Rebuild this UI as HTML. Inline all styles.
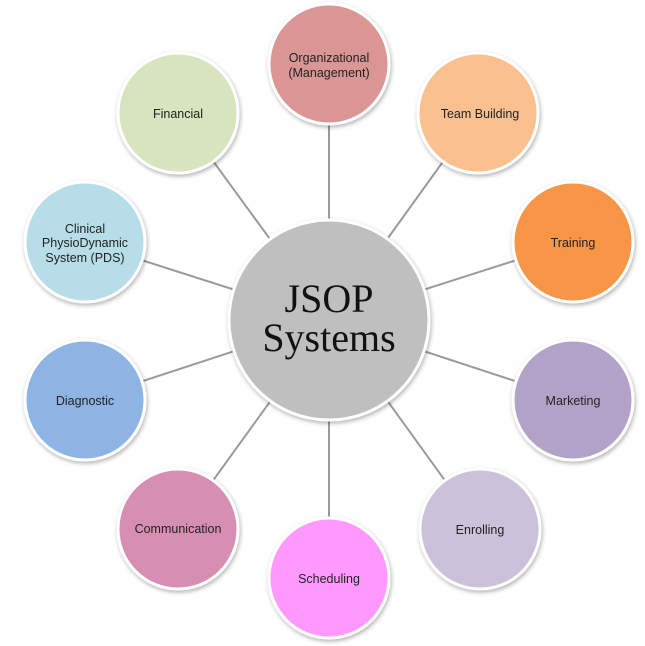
<!DOCTYPE html>
<html><head><meta charset="utf-8"><style>
html,body{margin:0;padding:0;background:#fff;width:645px;height:646px;overflow:hidden}
svg{display:block}
.l{font-family:"Liberation Sans",sans-serif;font-size:12.5px;fill:#222;text-anchor:middle}
</style></head><body>
<svg width="645" height="646" viewBox="0 0 645 646" xmlns="http://www.w3.org/2000/svg">
<defs><filter id="s" x="-20%" y="-20%" width="140%" height="140%"><feDropShadow dx="1" dy="2" stdDeviation="2" flood-color="#000" flood-opacity="0.3"/></filter></defs>
<g stroke="#9a9a9a" stroke-width="2">
<line x1="329" y1="320" x2="329" y2="64"/>
<line x1="329" y1="320" x2="478" y2="113"/>
<line x1="329" y1="320" x2="573" y2="242"/>
<line x1="329" y1="320" x2="573" y2="400"/>
<line x1="329" y1="320" x2="480" y2="529"/>
<line x1="329" y1="320" x2="329" y2="578"/>
<line x1="329" y1="320" x2="178" y2="529"/>
<line x1="329" y1="320" x2="85" y2="400"/>
<line x1="329" y1="320" x2="85" y2="242"/>
<line x1="329" y1="320" x2="178" y2="113"/>
</g>
<g stroke="#fff" stroke-width="3" filter="url(#s)">
<circle cx="329" cy="320" r="100" fill="#bfbfbf"/>
<circle cx="329" cy="64" r="60" fill="#d99694"/>
<circle cx="478" cy="113" r="60" fill="#fac090"/>
<circle cx="573" cy="242" r="60" fill="#f79646"/>
<circle cx="573" cy="400" r="60" fill="#b3a2c7"/>
<circle cx="480" cy="529" r="60" fill="#ccc1da"/>
<circle cx="329" cy="578" r="60" fill="#ff99ff"/>
<circle cx="178" cy="529" r="60" fill="#d78eb3"/>
<circle cx="85" cy="400" r="60" fill="#8eb4e3"/>
<circle cx="85" cy="242" r="60" fill="#b7dee8"/>
<circle cx="178" cy="113" r="60" fill="#d7e4bd"/>
</g>
<text x="329" y="312" font-family="'Liberation Serif',serif" font-size="40" text-anchor="middle" fill="#111">JSOP</text>
<text x="329" y="351" font-family="'Liberation Serif',serif" font-size="40" text-anchor="middle" fill="#111">Systems</text>
<text class="l" x="329" y="62">Organizational</text>
<text class="l" x="329" y="77">(Management)</text>
<text class="l" x="480" y="118">Team Building</text>
<text class="l" x="573" y="247">Training</text>
<text class="l" x="573" y="405">Marketing</text>
<text class="l" x="480" y="534">Enrolling</text>
<text class="l" x="329" y="583">Scheduling</text>
<text class="l" x="178" y="533">Communication</text>
<text class="l" x="85" y="405">Diagnostic</text>
<text class="l" x="85" y="233">Clinical</text>
<text class="l" x="85" y="247">PhysioDynamic</text>
<text class="l" x="85" y="262">System (PDS)</text>
<text class="l" x="178" y="118">Financial</text>
</svg>
</body></html>
